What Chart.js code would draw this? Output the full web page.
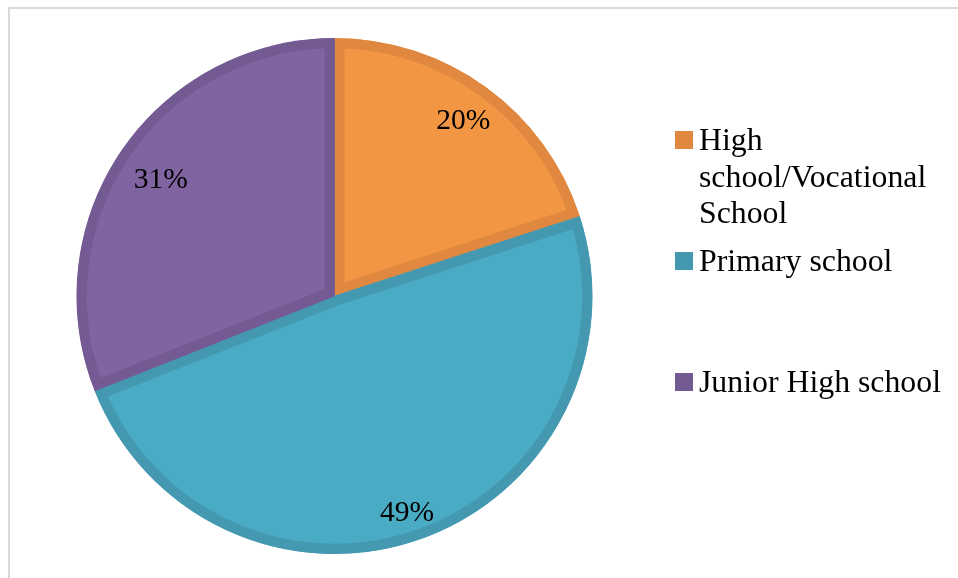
<!DOCTYPE html>
<html>
<head>
<meta charset="utf-8">
<title>Education level</title>
<script src="https://cdn.jsdelivr.net/npm/chart.js@4/dist/chart.umd.min.js"></script>
<style>
  html, body { margin: 0; padding: 0; background: #ffffff; }
  #wrap { position: relative; width: 958px; height: 578px; }
  canvas { display: block; }
</style>
</head>
<body>
<div id="wrap"><canvas id="chart" width="958" height="578"></canvas></div>
<script>
// Categories (legend text, wrapped as shown) and their shares in percent
const categories = ['High school/Vocational School', 'Primary school', 'Junior High school'];
const legendLines = [['High', 'school/Vocational', 'School'], ['Primary school'], ['Junior High school']];
const shares = [20, 49, 31];

// Slice fill and edge colours
const fillColors = ['#F29644', '#4AABC5', '#8064A2'];
const edgeColors = ['#E0883F', '#4499B1', '#735A92'];

const SERIF = '"Liberation Serif", "Times New Roman", serif';

// Outer frame of the chart box
const framePlugin = {
  id: 'frame',
  beforeDraw(chart) {
    const ctx = chart.ctx;
    ctx.save();
    ctx.fillStyle = '#ffffff';
    ctx.fillRect(0, 0, chart.width, chart.height);
    ctx.strokeStyle = '#D9D9D9';
    ctx.lineWidth = 2;
    ctx.strokeRect(9, 8, chart.width + 20, chart.height + 20);
    ctx.restore();
  }
};

// Percentage labels placed inside each slice
const sliceLabels = {
  id: 'sliceLabels',
  afterDatasetsDraw(chart, args, opts) {
    const ctx = chart.ctx;
    const meta = chart.getDatasetMeta(0);
    ctx.save();
    ctx.font = opts.size + 'px ' + SERIF;
    ctx.fillStyle = '#000000';
    ctx.textAlign = 'center';
    ctx.textBaseline = 'alphabetic';
    meta.data.forEach((arc, i) => {
      const p = arc.getProps(['x', 'y', 'startAngle', 'endAngle'], true);
      const mid = (p.startAngle + p.endAngle) / 2 + opts.angleShift[i];
      const r = opts.distances[i];
      const x = p.x + Math.cos(mid) * r;
      const y = p.y + Math.sin(mid) * r + opts.size * 0.34;
      ctx.fillText(chart.data.datasets[0].data[i] + '%', x, y);
    });
    ctx.restore();
  }
};

// Legend on the right: square swatch plus wrapped serif text
const sideLegend = {
  id: 'sideLegend',
  afterDraw(chart, args, opts) {
    const ctx = chart.ctx;
    ctx.save();
    ctx.font = opts.size + 'px ' + SERIF;
    ctx.textAlign = 'left';
    ctx.textBaseline = 'alphabetic';
    legendLines.forEach((lines, i) => {
      const base = opts.firstBaseline + i * opts.entryStep;
      ctx.fillStyle = edgeColors[i];
      ctx.fillRect(opts.boxX, base - opts.boxSize - 1, opts.boxSize, opts.boxSize);
      ctx.fillStyle = '#000000';
      lines.forEach((line, j) => {
        ctx.fillText(line, opts.textX, base + j * opts.lineStep);
      });
    });
    ctx.restore();
  }
};

new Chart(document.getElementById('chart'), {
  type: 'pie',
  data: {
    labels: categories,
    datasets: [{
      data: shares,
      backgroundColor: fillColors,
      borderColor: edgeColors,
      borderWidth: 10,
      borderAlign: 'inner',
      radius: 258
    }]
  },
  options: {
    responsive: false,
    animation: false,
    events: [],
    layout: { padding: { left: 30, right: 319, top: 20, bottom: 6 } },
    plugins: {
      legend: { display: false },
      tooltip: { enabled: false },
      sliceLabels: { size: 29.5, distances: [219, 227, 210], angleShift: [0, 0.02, 0] },
      sideLegend: {
        size: 31.8, boxX: 675, boxSize: 18, textX: 699,
        firstBaseline: 150, entryStep: 121, lineStep: 36.5
      }
    }
  },
  plugins: [framePlugin, sliceLabels, sideLegend]
});
</script>
</body>
</html>
